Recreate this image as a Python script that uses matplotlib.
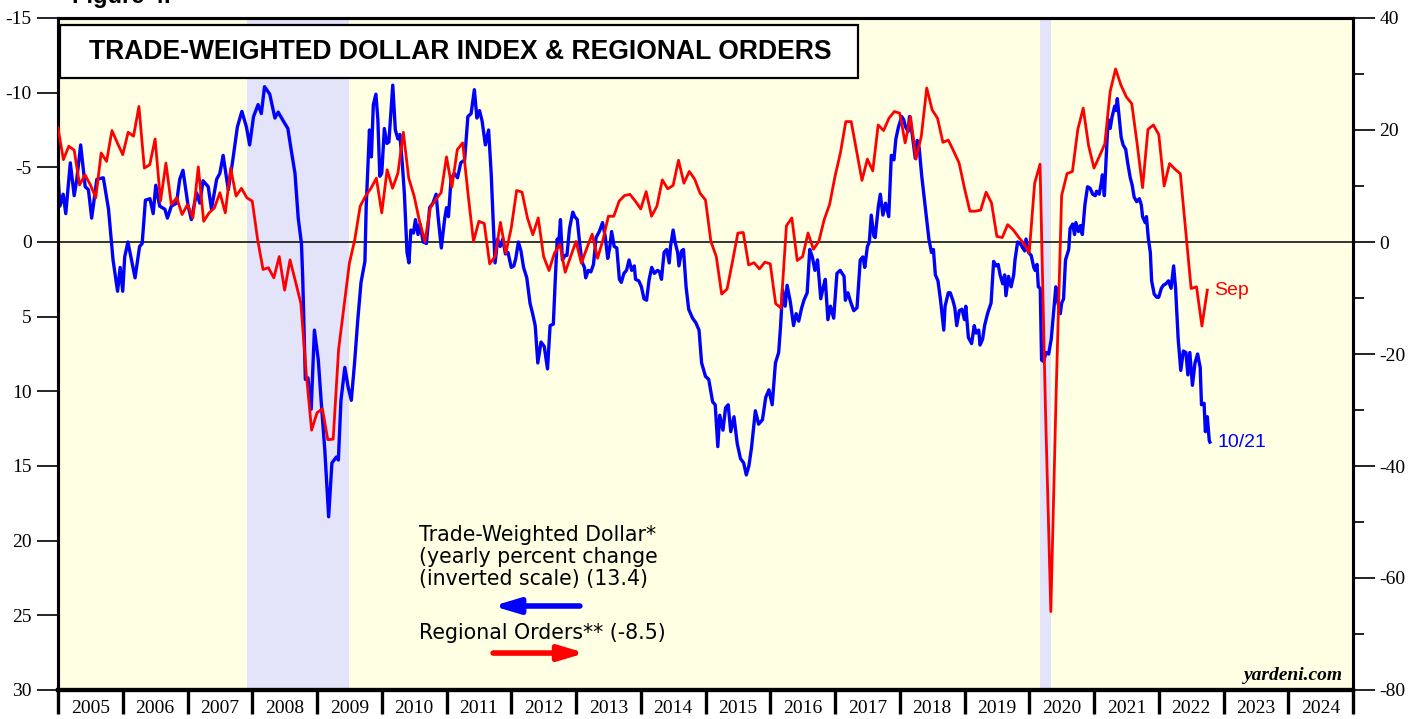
import numpy as np
import matplotlib.pyplot as plt
from matplotlib.patches import Rectangle
from matplotlib.ticker import FixedLocator, MultipleLocator, NullFormatter

plt.rcParams['axes.unicode_minus'] = False

# trade-weighted dollar, yearly % change (weekly-ish samples, decimal years)
dollar_dates = [
    2005.00, 2005.03, 2005.08, 2005.12, 2005.19, 2005.25, 2005.29, 2005.35, 2005.42, 2005.47,
    2005.52, 2005.60, 2005.70, 2005.78, 2005.85, 2005.92, 2005.96, 2006.00, 2006.03, 2006.08,
    2006.14, 2006.19, 2006.26, 2006.30, 2006.35, 2006.42, 2006.47, 2006.51, 2006.57, 2006.65,
    2006.69, 2006.75, 2006.83, 2006.88, 2006.93, 2007.01, 2007.06, 2007.14, 2007.19, 2007.24,
    2007.32, 2007.37, 2007.45, 2007.50, 2007.55, 2007.63, 2007.70, 2007.77, 2007.84, 2007.91,
    2007.96, 2008.02, 2008.09, 2008.14, 2008.19, 2008.27, 2008.35, 2008.40, 2008.48, 2008.55,
    2008.60, 2008.66, 2008.71, 2008.76, 2008.78, 2008.82, 2008.86, 2008.91, 2008.96, 2009.02,
    2009.07, 2009.12, 2009.18, 2009.23, 2009.30, 2009.33, 2009.37, 2009.43, 2009.48, 2009.53,
    2009.58, 2009.63, 2009.68, 2009.74, 2009.76,
    2009.81, 2009.84, 2009.87, 2009.91, 2009.94, 2009.97, 2010.00, 2010.04, 2010.08, 2010.11,
    2010.14, 2010.17, 2010.21, 2010.25, 2010.28, 2010.32, 2010.35, 2010.39, 2010.42, 2010.45,
    2010.49, 2010.52, 2010.56, 2010.59, 2010.64, 2010.69, 2010.74, 2010.79, 2010.84, 2010.87,
    2010.92, 2010.97, 2011.00, 2011.03, 2011.07, 2011.12, 2011.17, 2011.22, 2011.28, 2011.33,
    2011.38, 2011.43, 2011.47, 2011.51, 2011.55, 2011.60, 2011.65, 2011.69, 2011.72, 2011.75,
    2011.79, 2011.83, 2011.87, 2011.91, 2011.95, 2012.00, 2012.04, 2012.07, 2012.11, 2012.15,
    2012.19, 2012.24, 2012.29, 2012.33, 2012.37, 2012.41, 2012.46, 2012.51, 2012.56, 2012.60,
    2012.65, 2012.68, 2012.71, 2012.73, 2012.76, 2012.79, 2012.83, 2012.86, 2012.90, 2012.95,
    2012.98, 2013.02, 2013.05, 2013.09, 2013.13, 2013.15, 2013.19, 2013.23, 2013.27, 2013.31,
    2013.36, 2013.41, 2013.45, 2013.49, 2013.52, 2013.55, 2013.59, 2013.63, 2013.67, 2013.70,
    2013.74, 2013.78, 2013.82, 2013.86, 2013.90, 2013.92, 2013.97, 2014.01, 2014.05, 2014.09,
    2014.13, 2014.17, 2014.21, 2014.26, 2014.29, 2014.32, 2014.36, 2014.40, 2014.44, 2014.46,
    2014.50, 2014.53, 2014.57,
    2014.59, 2014.63, 2014.66, 2014.70, 2014.74, 2014.80, 2014.85, 2014.90, 2014.94, 2015.00,
    2015.05, 2015.11, 2015.15, 2015.19, 2015.22, 2015.27, 2015.31, 2015.35, 2015.39, 2015.44,
    2015.49, 2015.54, 2015.59, 2015.63, 2015.67, 2015.71, 2015.77, 2015.82, 2015.88, 2015.93,
    2015.98, 2016.03, 2016.08, 2016.13, 2016.16, 2016.19, 2016.23, 2016.26, 2016.31, 2016.36,
    2016.40, 2016.44, 2016.48, 2016.52, 2016.57, 2016.61, 2016.65, 2016.69, 2016.73, 2016.78,
    2016.82, 2016.85, 2016.89, 2016.93, 2016.98, 2017.03, 2017.08, 2017.14, 2017.16, 2017.20,
    2017.24, 2017.29, 2017.34, 2017.39, 2017.43, 2017.46, 2017.50, 2017.53, 2017.56, 2017.60,
    2017.62, 2017.67, 2017.70, 2017.74, 2017.78, 2017.83, 2017.87, 2017.91, 2017.94, 2017.98,
    2018.03, 2018.06, 2018.09, 2018.13, 2018.15, 2018.19, 2018.24, 2018.27, 2018.30, 2018.34,
    2018.40, 2018.45, 2018.49, 2018.52, 2018.55, 2018.59, 2018.63, 2018.65, 2018.68, 2018.70,
    2018.75, 2018.78, 2018.82, 2018.85, 2018.88, 2018.92, 2018.96, 2019.00, 2019.02, 2019.06,
    2019.11, 2019.15, 2019.18, 2019.22, 2019.24, 2019.28, 2019.31, 2019.35,
    2019.37, 2019.41, 2019.45, 2019.49, 2019.52, 2019.55, 2019.59, 2019.62, 2019.64, 2019.68,
    2019.72, 2019.76, 2019.78, 2019.82, 2019.86, 2019.90, 2019.93, 2019.95, 2019.99, 2020.03,
    2020.07, 2020.09, 2020.12, 2020.14, 2020.17, 2020.19, 2020.22, 2020.26, 2020.30, 2020.34,
    2020.37, 2020.41, 2020.44, 2020.48, 2020.50, 2020.53, 2020.56, 2020.61, 2020.63, 2020.67,
    2020.70, 2020.72, 2020.76, 2020.79, 2020.82, 2020.86, 2020.90, 2020.94, 2020.98, 2021.02,
    2021.04, 2021.08, 2021.11, 2021.13, 2021.16, 2021.20, 2021.22, 2021.25, 2021.28, 2021.32,
    2021.34, 2021.36, 2021.39, 2021.42, 2021.45, 2021.49, 2021.52, 2021.56, 2021.59, 2021.62,
    2021.66, 2021.70, 2021.73, 2021.75, 2021.79, 2021.81, 2021.84, 2021.87, 2021.89, 2021.93,
    2021.97, 2022.00, 2022.04, 2022.07, 2022.11, 2022.15, 2022.19, 2022.23, 2022.26, 2022.30,
    2022.34, 2022.38, 2022.42, 2022.45, 2022.48, 2022.52, 2022.56, 2022.60, 2022.64, 2022.66,
    2022.70, 2022.72, 2022.75, 2022.78, 2022.79,
]
dollar_yoy = [
    -4.5, -2.4, -3.2, -1.9, -5.3, -3.1, -4.2, -6.5, -3.7, -3.5,
    -1.6, -4.2, -4.3, -2.2, 1.2, 3.3, 1.7, 3.3, 1.0, 0.0,
    1.3, 2.4, 0.3, 0.1, -2.8, -2.9, -1.9, -3.8, -2.4, -2.2,
    -1.6, -2.4, -2.6, -4.2, -4.8, -2.4, -1.5, -3.3, -2.6, -4.1,
    -3.7, -2.2, -4.2, -4.6, -5.8, -3.5, -5.5, -7.7, -8.75, -7.7,
    -6.5, -8.4, -9.2, -8.6, -10.4, -9.9, -8.3, -8.7, -8.1, -7.6,
    -6.2, -4.6, -1.6, 0.1, 2.5, 9.2, 9.1, 11.2, 5.9, 7.9,
    11.0, 13.9, 18.4, 14.8, 14.4, 14.6, 10.6, 8.4, 9.7, 10.6,
    8.1, 5.2, 2.7, 1.3, -2.4,
    -7.5, -5.7, -9.2, -9.9, -8.2, -4.4, -4.6, -7.6, -6.6, -6.7,
    -8.6, -10.5, -7.5, -6.9, -7.2, -5.1, -3.2, 0.7, 1.4, -0.8,
    -0.6, -1.5, -0.5, -1.2, 0.0, 0.1, -2.3, -2.6, -3.2, -1.7,
    0.4, -1.5, -2.3, -1.7, -4.2, -4.6, -4.3, -5.3, -5.5, -8.4,
    -8.6, -10.2, -8.3, -8.8, -8.1, -6.5, -7.5, -4.6, -1.5, 1.4,
    -0.2, 0.3, -0.2, 0.8, 0.7, 1.7, 1.6, 1.1, 0.0, 0.6,
    1.7, 2.4, 4.1, 4.8, 5.6, 8.1, 6.7, 7.0, 8.5, 5.6,
    5.5, 2.5, -0.2, 0.3, -1.5, 1.2, 0.9, 0.9, -0.9, -2.0,
    -1.7, -1.5, -0.2, 1.3, 1.7, 2.4, 1.9, 2.0, 1.5, -0.3,
    -0.7, -1.3, -0.4, 1.1, 0.4, -0.7, 0.3, 0.4, 2.5, 2.7,
    2.1, 1.9, 1.2, 1.9, 1.6, 2.5, 2.6, 3.0, 3.8, 3.9,
    2.5, 1.7, 2.1, 1.9, 2.0, 2.5, 0.7, 0.5, 1.4, 0.3,
    -0.8, 0.0, 0.7,
    1.6, 0.6, 0.5, 3.0, 4.5, 5.1, 5.4, 5.9, 8.1, 9.0,
    9.2, 10.7, 10.9, 13.7, 11.6, 12.6, 11.1, 10.9, 12.7, 11.7,
    13.5, 14.5, 14.8, 15.6, 15.0, 13.8, 11.3, 12.2, 11.9, 10.4,
    9.9, 10.9, 8.1, 7.4, 5.6, 3.2, 4.3, 2.9, 4.0, 5.6,
    4.8, 5.3, 4.5, 3.9, 3.4, 0.5, 1.0, 1.9, 1.2, 3.8,
    3.0, 2.5, 5.2, 4.3, 5.1, 2.1, 1.9, 2.3, 3.9, 3.4,
    4.0, 4.6, 4.4, 1.2, 1.0, 1.7, 0.3, 0.0, -1.8, -0.4,
    -0.3, -2.4, -3.2, -1.8, -2.6, -1.7, -5.8, -5.5, -6.9, -7.7,
    -8.4, -8.2, -7.7, -7.4, -8.4, -7.3, -5.6, -6.8, -6.3, -4.4,
    -2.1, -0.2, 0.7, 0.5, 2.2, 2.6, 3.9, 4.7, 5.9, 4.3,
    3.4, 3.4, 3.9, 4.4, 5.6, 4.6, 4.5, 5.2, 4.3, 6.4,
    6.8, 5.6, 6.1, 5.9, 6.9, 6.5, 5.6, 4.9,
    4.6, 4.1, 1.3, 1.6, 1.5, 2.2, 2.8, 2.2, 3.6, 2.3,
    3.0, 2.2, 1.2, 0.0, 0.1, 0.4, 0.6, -0.2, 0.7, 0.9,
    1.7, 1.9, 1.5, 3.0, 3.1, 7.9, 8.0, 7.4, 7.5, 6.5,
    5.0, 3.0, 4.0, 4.8, 4.1, 3.8, 1.2, 0.5, -0.9, -1.2,
    -0.5, -1.3, -0.7, -1.1, -0.5, -2.5, -3.7, -3.6, -3.2, -3.1,
    -3.4, -3.2, -3.9, -4.5, -3.1, -6.7, -8.2, -7.6, -8.4, -9.1,
    -8.8, -9.6, -8.3, -7.0, -6.5, -6.2, -5.3, -4.3, -3.8, -3.0,
    -2.7, -2.9, -2.5, -1.7, -1.3, -1.7, -0.2, 0.7, 2.6, 3.5,
    3.7, 3.7, 3.1, 2.9, 2.8, 2.6, 3.1, 1.6, 3.1, 6.5,
    8.6, 7.3, 7.4, 8.9, 7.4, 9.6, 8.1, 7.5, 8.4, 10.9,
    10.8, 12.7, 11.7, 13.3, 13.4,
]

# regional orders, monthly from 2005
orders_start = 2005.0
regional_orders = [
    20.4, 14.7, 17.1, 16.4, 10.2, 12.0, 10.2, 7.9, 15.9, 14.4, 19.9, 17.7,
    15.6, 19.6, 18.9, 24.2, 13.2, 13.8, 18.4, 7.3, 14.1, 6.7, 7.9, 4.9,
    6.7, 4.3, 13.4, 3.7, 5.2, 6.1, 8.8, 5.2, 13.2, 8.2, 9.6, 7.9,
    7.3, 0.4, -4.9, -4.6, -6.4, -2.6, -8.6, -3.2, -7.0, -10.9, -23.4, -33.6,
    -30.5, -29.8, -35.3, -35.2, -19.2, -11.5, -3.8, 0.4, 6.4, 8.2, 9.6, 11.4,
    5.2, 12.9, 9.6, 12.3, 19.6, 11.4, 8.2, 3.7, 0.1, 6.1, 7.6, 8.8,
    15.2, 9.8, 16.5, 17.7, 8.5, 0.1, 3.7, 3.3, -3.9, -2.6, 3.5, -2.0,
    2.5, 9.2, 8.9, 4.3, 1.3, 4.3, -2.6, -5.1, -2.0, -0.4, -5.4, -2.6,
    0.1, -3.8, -1.1, 1.4, -2.9, 0.4, 4.6, 4.6, 7.3, 8.3, 8.5, 7.3,
    5.9, 9.0, 4.6, 6.4, 11.1, 9.5, 10.1, 14.6, 10.5, 12.6, 11.2, 8.7,
    7.5, 0.1, -2.6, -9.3, -8.4, -3.5, 1.6, 1.7, -4.1, -3.7, -4.8, -3.6,
    -3.9, -11.0, -11.8, 2.9, 4.3, -3.3, -2.6, 1.6, -1.3, 0.1, 4.0, 6.7,
    11.7, 15.9, 21.5, 21.5, 16.2, 11.0, 14.8, 12.7, 20.9, 19.9, 22.1, 23.3,
    23.0, 17.7, 22.4, 14.8, 18.9, 27.5, 23.6, 22.1, 17.8, 18.2, 16.2, 14.1,
    9.6, 5.5, 5.5, 5.7, 8.9, 7.0, 1.0, 0.8, 3.1, 2.2, 0.9, -0.3,
    -1.9, 10.5, 13.9, -29.7, -66.0, -26.4, 8.3, 12.2, 12.6, 20.1, 23.9, 17.2,
    13.2, 15.3, 17.5, 26.9, 30.9, 28.0, 25.9, 24.7, 17.5, 9.7, 20.1, 20.9,
    19.2, 10.0, 14.0, 13.0, 12.2, 1.9, -8.3, -8.0, -15.0, -8.6,
]
orders_dates = orders_start + np.arange(len(regional_orders)) / 12.0

recessions = [(2007.92, 2009.50), (2020.16, 2020.33)]
years = list(range(2005, 2025))

BG = '#FFFFE3'
SHADE = '#E3E3FA'
SERIF = 'Liberation Serif'
SANS = 'Liberation Sans'

fig = plt.figure(figsize=(14.19, 7.19), dpi=100)
ax = fig.add_axes([58 / 1419, 1 - 690 / 719, 1295 / 1419, 672 / 719])
ax.set_facecolor(BG)
ax2 = ax.twinx()

for start, end in recessions:
    ax.axvspan(start, end, color=SHADE, lw=0, zorder=0)
ax.axhline(0, color='black', lw=1.1, zorder=1)

ax.plot(dollar_dates, dollar_yoy, color='#0000FF', lw=2.4, zorder=3)
ax2.plot(orders_dates, regional_orders, color='#FF0000', lw=2.0, zorder=3)

ax.set_xlim(2005, 2025)
ax.set_ylim(30, -15)
ax2.set_ylim(-80, 40)

# x axis: ticks at year boundaries, labels centered in between
ax.xaxis.set_major_locator(FixedLocator(range(2005, 2026)))
ax.xaxis.set_major_formatter(NullFormatter())
ax.xaxis.set_minor_locator(FixedLocator([y + 0.5 for y in years]))
ax.set_xticklabels([str(y) for y in years], minor=True)
ax.tick_params(axis='x', which='major', direction='out', length=17, width=2.4)
ax.tick_params(axis='x', which='minor', length=0, pad=7.5, labelsize=14,
               labelfontfamily=SERIF)

ax.set_yticks(range(-15, 31, 5))
ax.set_yticklabels([str(v) for v in range(-15, 31, 5)])
ax.tick_params(axis='y', direction='out', length=15, width=1.2, pad=4,
               labelsize=14, labelfontfamily=SERIF)

ax2.set_yticks(range(-80, 41, 20))
ax2.set_yticklabels([str(v) for v in range(-80, 41, 20)])
ax2.yaxis.set_minor_locator(MultipleLocator(10))
ax2.tick_params(axis='y', which='major', direction='out', length=16, width=1.2, pad=3,
                labelsize=14, labelfontfamily=SERIF)
ax2.tick_params(axis='y', which='minor', direction='out', length=8, width=1.2)

for a in (ax, ax2):
    for side in ('left', 'right', 'top'):
        a.spines[side].set_linewidth(2.2)
    a.spines['bottom'].set_linewidth(3.0)

# title box
ax2.add_patch(Rectangle((0.0015, 0.9107), 0.6163, 0.0789, transform=ax2.transAxes,
                        facecolor='white', edgecolor='black', lw=1.6, zorder=5))
ax2.text(0.3104, 0.950, 'TRADE-WEIGHTED DOLLAR INDEX & REGIONAL ORDERS',
         transform=ax2.transAxes, ha='center', va='center', fontsize=19.1,
         fontweight='bold', fontfamily=SANS, zorder=6)

fig.text(0.0507, 0.9958, 'Figure 4.', ha='left', va='baseline', fontsize=17,
         fontweight='bold', fontfamily=SANS)

# legend-like annotations
LEG = 'DejaVu Sans'
ax.text(0.2788, 0.246, 'Trade-Weighted Dollar*\n(yearly percent change\n(inverted scale) (13.4)',
        transform=ax.transAxes, ha='left', va='top', fontsize=14.8, fontfamily=LEG,
        linespacing=1.12, zorder=6)
arrow = dict(arrowstyle='-|>,head_length=1.5,head_width=0.45', lw=4,
             shrinkA=0, shrinkB=0)
ax.annotate('', xy=(0.336, 0.125), xytext=(0.403, 0.125), xycoords='axes fraction',
            arrowprops=dict(arrow, color='#0000FF'), zorder=6)
ax.text(0.2788, 0.0759, 'Regional Orders** (-8.5)', transform=ax.transAxes,
        ha='left', va='baseline', fontsize=14.8, fontfamily=LEG, zorder=6)
ax.annotate('', xy=(0.407, 0.055), xytext=(0.336, 0.055), xycoords='axes fraction',
            arrowprops=dict(arrow, color='#FF0000'), zorder=6)

ax2.text(orders_dates[-1] + 0.1, regional_orders[-1], 'Sep', color='#FF0000',
         ha='left', va='center', fontsize=14, fontfamily=SANS)
ax.text(dollar_dates[-1] + 0.12, dollar_yoy[-1], '10/21', color='#0000FF',
        ha='left', va='center', fontsize=14, fontfamily=SANS)

ax.text(0.992, 0.015, 'yardeni.com', transform=ax.transAxes, ha='right', va='baseline',
        fontsize=14, fontweight='bold', fontstyle='italic', fontfamily=SERIF, zorder=6)

fig.savefig('out.png', dpi=100, facecolor='white')
